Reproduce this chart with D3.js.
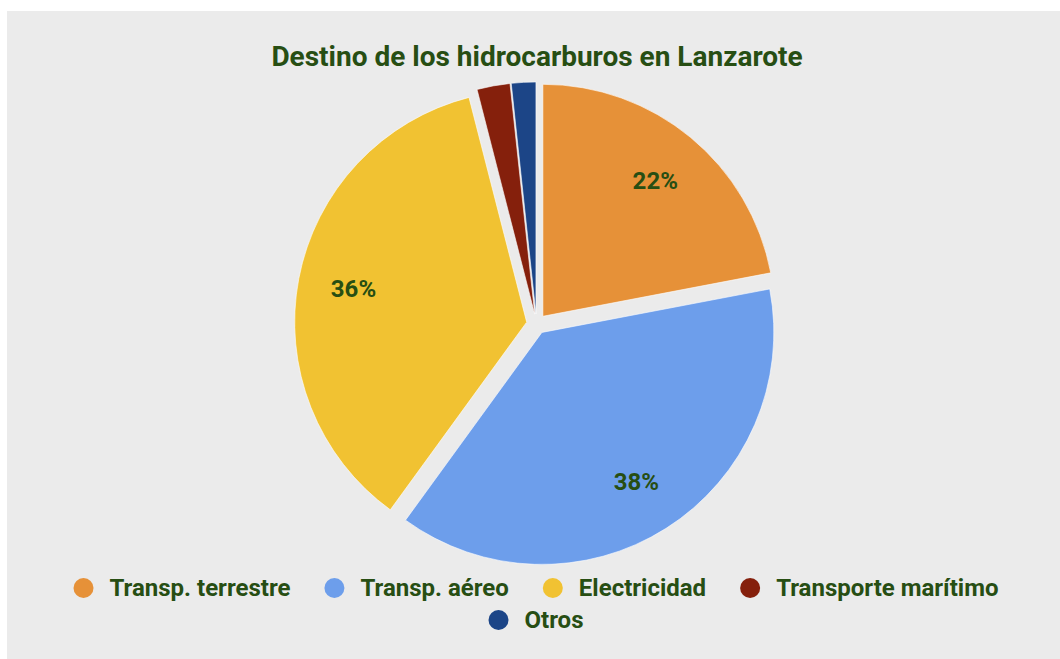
<!DOCTYPE html>
<html>
<head>
<meta charset="utf-8">
<script src="https://cdn.jsdelivr.net/npm/d3@7"></script>
<style>
  body { margin: 0; background: #fff; }
  text { font-family: Roboto, sans-serif; font-weight: bold; fill: #274e13; }
</style>
</head>
<body>
<div id="chart"></div>
<script>
// Data
const categories = ['Transp. terrestre', 'Transp. aéreo', 'Electricidad', 'Transporte marítimo', 'Otros'];
const values = [22, 38, 36, 2.3, 1.7];
const colours = ['#e69138', '#6d9eeb', '#f1c232', '#85200c', '#1c4587'];

const width = 1060;
const height = 659;

const cx = 536.5, cy = 324;
const radius = 232;
const offset = 10;

const svg = d3.select("#chart").append("svg")
    .attr("width", width)
    .attr("height", height);

svg.append("rect")
    .attr("x", 7)
    .attr("y", 11)
    .attr("width", width - 7)
    .attr("height", height - 11)
    .attr("fill", "#ebebeb");

svg.append("text")
    .attr("x", 537)
    .attr("y", 66)
    .attr("text-anchor", "middle")
    .style("font-size", "28px")
    .text("Destino de los hidrocarburos en Lanzarote");

const total = d3.sum(values);
const pie = d3.pie().sort(null).value(d => d.value);
const arcs = pie(categories.map((c, i) => ({name: c, value: values[i], colour: colours[i]})));

const arc = d3.arc().innerRadius(0).outerRadius(radius);
const labelArc = d3.arc().innerRadius(radius * 0.76).outerRadius(radius * 0.76);

// each slice pushed out from the centre along its mid-angle
const shift = d => {
  const a = (d.startAngle + d.endAngle) / 2;
  return [Math.sin(a) * offset, -Math.cos(a) * offset];
};

const g = svg.append("g").attr("transform", `translate(${cx},${cy})`);

const slice = g.selectAll("g.slice")
    .data(arcs)
    .enter()
    .append("g")
    .attr("class", "slice")
    .attr("transform", d => `translate(${shift(d)})`);

slice.append("path")
    .attr("d", arc)
    .attr("fill", d => d.data.colour)
    .attr("stroke", "#fff")
    .attr("stroke-width", 0.6);

slice.filter(d => d.data.value / total > 0.05)
    .append("text")
    .attr("transform", d => `translate(${labelArc.centroid(d)})`)
    .attr("text-anchor", "middle")
    .attr("dy", "0.35em")
    .style("font-size", "24px")
    .text(d => d3.format(".0%")(d.data.value / total));

// Legend
const legendRows = [[0, 1, 2, 3], [4]];
const rowY = [588, 620];
const fontSize = 24;

legendRows.forEach((row, r) => {
  const lg = svg.append("g");
  let x = 0;
  row.forEach(i => {
    const item = lg.append("g").attr("transform", `translate(${x},0)`);
    item.append("circle")
      .attr("cx", 10)
      .attr("cy", 0)
      .attr("r", 10)
      .attr("fill", colours[i]);
    const t = item.append("text")
      .attr("x", 36)
      .attr("dy", "0.35em")
      .style("font-size", fontSize + "px")
      .text(categories[i]);
    x += 36 + t.node().getComputedTextLength() + 34;
  });
  const w = x - 34;
  lg.attr("transform", `translate(${536 - w / 2},${rowY[r]})`);
});
</script>
</body>
</html>
